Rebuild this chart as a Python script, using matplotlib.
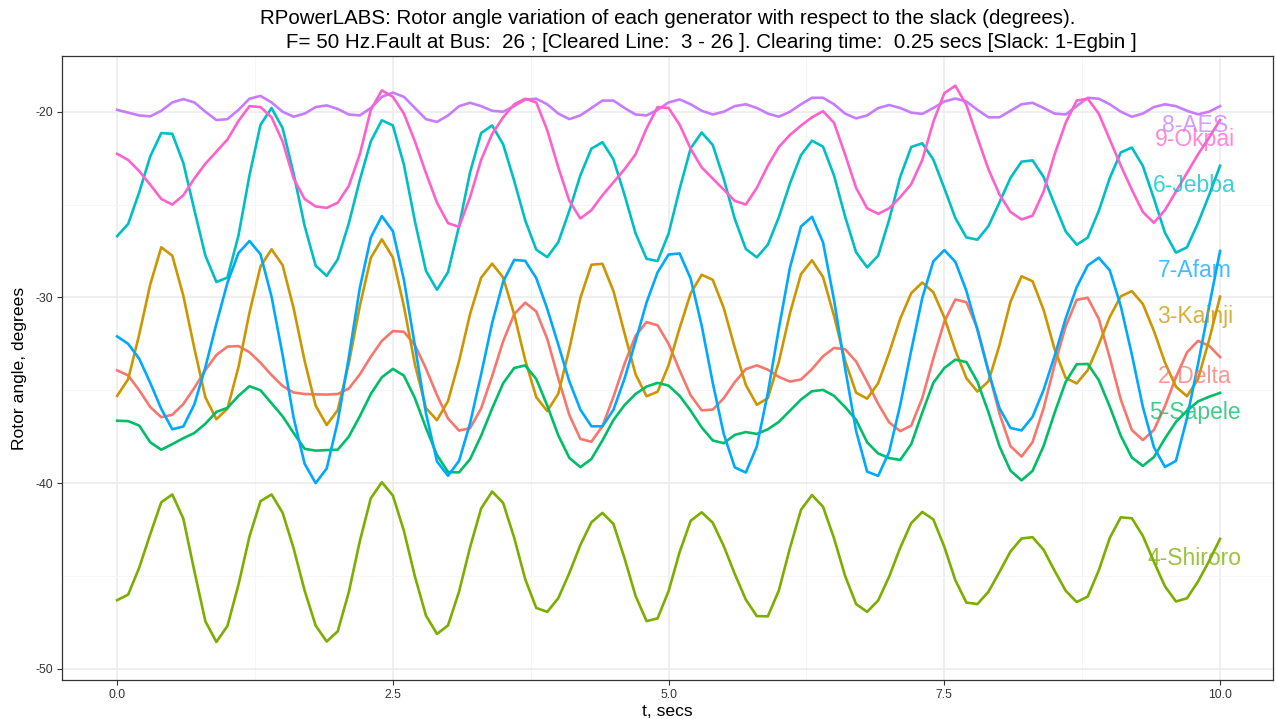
import numpy as np
import matplotlib
matplotlib.use("Agg")
import matplotlib.pyplot as plt
from matplotlib.ticker import FixedLocator

t = [round(0.1 * i, 1) for i in range(101)]

delta = [-33.93, -34.2, -35.0, -35.9, -36.45, -36.32, -35.74, -34.87, -33.91, -33.10,
         -32.65, -32.62, -32.95, -33.52, -34.18, -34.77, -35.12, -35.2, -35.22, -35.23,
         -35.2, -34.91, -34.15, -33.19, -32.34, -31.81, -31.85, -32.57, -33.83, -35.26,
         -36.52, -37.17, -37.04, -35.98, -34.24, -32.36, -30.90, -30.28, -30.76, -32.24,
         -34.36, -36.33, -37.62, -37.77, -36.93, -35.35, -33.58, -32.07, -31.33, -31.50,
         -32.50, -33.93, -35.27, -36.08, -36.04, -35.43, -34.56, -33.86, -33.66, -33.89,
         -34.28, -34.53, -34.42, -33.86, -33.17, -32.72, -32.79, -33.45, -34.55, -35.73,
         -36.73, -37.20, -36.90, -35.42, -33.29, -31.30, -30.11, -30.26, -31.67, -33.94,
         -36.26, -38.01, -38.57, -37.79, -35.97, -33.63, -31.56, -30.13, -30.02, -31.15,
         -33.25, -35.50, -37.14, -37.68, -37.14, -35.86, -34.30, -32.96, -32.34, -32.6,
         -33.21]

kainji = [-35.3, -34.4, -32.0, -29.3, -27.3, -27.75, -29.91, -32.74, -35.38, -36.56,
          -35.99, -33.75, -30.81, -28.33, -27.41, -28.26, -30.58, -33.42, -35.83, -36.87,
          -36.07, -33.57, -30.47, -27.87, -26.87, -27.85, -30.48, -33.61, -35.96, -36.61,
          -35.58, -33.43, -30.89, -28.94, -28.18, -28.93, -30.92, -33.38, -35.37, -36.12,
          -35.18, -32.77, -30.03, -28.24, -28.19, -29.66, -31.92, -34.13, -35.32, -35.08,
          -33.65, -31.65, -29.78, -28.78, -29.05, -30.57, -32.71, -34.71, -35.78, -35.42,
          -33.46, -30.86, -28.75, -28.0, -28.90, -31.0, -33.4, -35.13, -35.45, -34.62,
          -32.98, -31.15, -29.77, -29.2, -29.72, -31.08, -32.85, -34.35, -35.07, -34.52,
          -32.57, -30.23, -28.86, -29.13, -30.67, -32.79, -34.33, -34.63, -33.92, -32.54,
          -31.05, -29.94, -29.66, -30.35, -31.80, -33.50, -34.81, -35.32, -34.4, -32.3,
          -29.96]

shiroro = [-46.3, -46.0, -44.55, -42.75, -41.03, -40.61, -41.91, -44.73, -47.44, -48.55,
           -47.69, -45.47, -42.87, -40.97, -40.61, -41.59, -43.51, -45.79, -47.67, -48.53,
           -47.98, -45.88, -43.13, -40.81, -39.95, -40.67, -42.57, -45.03, -47.13, -48.12,
           -47.66, -45.84, -43.45, -41.37, -40.45, -41.07, -42.94, -45.17, -46.72, -46.93,
           -46.19, -44.84, -43.33, -42.11, -41.6, -42.20, -44.04, -46.06, -47.43, -47.28,
           -45.81, -43.71, -42.03, -41.57, -42.13, -43.39, -44.89, -46.27, -47.16, -47.17,
           -45.77, -43.50, -41.44, -40.64, -41.27, -42.97, -44.99, -46.51, -46.93, -46.32,
           -45.03, -43.48, -42.15, -41.55, -41.95, -43.43, -45.23, -46.43, -46.51, -45.85,
           -44.78, -43.68, -42.98, -42.91, -43.59, -44.72, -45.79, -46.40, -46.11, -44.70,
           -42.95, -41.84, -41.89, -42.84, -44.23, -45.55, -46.37, -46.2, -45.3, -44.2,
           -43.0]

sapele = [-36.64, -36.66, -36.9, -37.8, -38.2, -37.9, -37.58, -37.3, -36.8, -36.16,
          -35.95, -35.3, -34.78, -35.0, -35.7, -36.4, -37.3, -38.15, -38.25, -38.22,
          -38.2, -37.5, -36.4, -35.2, -34.3, -33.85, -34.21, -35.43, -37.02, -38.49,
          -39.40, -39.42, -38.71, -37.45, -35.98, -34.62, -33.80, -33.66, -34.39, -35.83,
          -37.43, -38.64, -39.14, -38.7, -37.7, -36.6, -35.8, -35.2, -34.8, -34.6,
          -34.75, -35.3, -36.1, -37.0, -37.7, -37.85, -37.4, -37.25, -37.35, -37.1,
          -36.7, -36.1, -35.5, -35.05, -34.98, -35.3, -35.9, -36.6, -37.8, -38.4,
          -38.65, -38.75, -37.9, -36.2, -34.6, -33.8, -33.35, -33.48, -34.54, -36.18,
          -38.02, -39.33, -39.85, -39.34, -38.0, -36.21, -34.55, -33.60, -33.58, -34.45,
          -35.88, -37.45, -38.62, -39.07, -38.6, -37.6, -36.7, -36.1, -35.6, -35.35,
          -35.14]

jebba = [-26.7, -26.04, -24.34, -22.41, -21.15, -21.19, -22.76, -25.29, -27.75, -29.17,
         -28.93, -26.67, -23.42, -20.70, -19.80, -20.88, -23.33, -26.15, -28.29, -28.84,
         -27.95, -26.02, -23.68, -21.60, -20.46, -20.74, -22.85, -25.90, -28.57, -29.59,
         -28.64, -26.16, -23.26, -21.15, -20.74, -21.76, -23.72, -25.85, -27.43, -27.83,
         -27.02, -25.33, -23.42, -21.99, -21.64, -22.57, -24.47, -26.54, -27.92, -28.04,
         -26.56, -24.16, -21.97, -21.12, -21.79, -23.61, -25.77, -27.39, -27.84, -27.16,
         -25.67, -23.87, -22.34, -21.56, -21.88, -23.44, -25.64, -27.57, -28.38, -27.75,
         -25.81, -23.51, -21.90, -21.70, -22.57, -24.12, -25.73, -26.77, -26.89, -26.16,
         -24.88, -23.56, -22.69, -22.62, -23.51, -25.00, -26.44, -27.16, -26.78, -25.35,
         -23.57, -22.19, -21.93, -22.92, -24.67, -26.51, -27.59, -27.3, -26.0, -24.5,
         -22.91]

afam = [-32.1, -32.5, -33.3, -34.6, -36.0, -37.1, -36.95, -35.76, -33.76, -31.41,
        -29.21, -27.61, -26.96, -27.68, -29.96, -33.09, -36.48, -38.96, -40.0, -39.21,
        -36.69, -33.24, -29.50, -26.77, -25.62, -26.43, -29.05, -32.61, -36.24, -38.83,
        -39.6, -38.80, -36.78, -34.14, -31.38, -29.15, -27.98, -28.03, -28.96, -30.62,
        -32.55, -34.52, -36.04, -36.94, -36.94, -36.05, -34.38, -32.37, -30.27, -28.65,
        -27.69, -27.63, -28.99, -31.52, -34.59, -37.35, -39.15, -39.43, -38.02, -35.13,
        -31.66, -28.40, -26.18, -25.66, -27.03, -30.14, -33.80, -37.19, -39.38, -39.61,
        -38.31, -35.80, -32.85, -30.03, -28.06, -27.45, -28.08, -29.65, -31.75, -34.00,
        -35.96, -37.03, -37.16, -36.43, -34.98, -33.15, -31.14, -29.45, -28.28, -27.86,
        -28.54, -30.47, -33.07, -35.90, -38.06, -39.13, -38.8, -36.5, -33.6, -30.5,
        -27.5]

aes = [-19.9, -20.05, -20.2, -20.25, -19.95, -19.5, -19.32, -19.5, -20.0, -20.45,
       -20.4, -19.9, -19.3, -19.15, -19.5, -20.0, -20.27, -20.1, -19.75, -19.66,
       -19.85, -20.15, -20.2, -19.8, -19.2, -18.97, -19.2, -19.8, -20.4, -20.55,
       -20.2, -19.7, -19.52, -19.7, -19.95, -20.0, -19.7, -19.35, -19.3, -19.6,
       -20.1, -20.4, -20.2, -19.8, -19.4, -19.4, -19.8, -20.15, -20.2, -19.9,
       -19.5, -19.34, -19.6, -19.95, -20.15, -20.0, -19.7, -19.6, -19.8, -20.1,
       -20.27, -20.0, -19.6, -19.25, -19.25, -19.6, -20.1, -20.36, -20.2, -19.8,
       -19.64, -19.8, -20.05, -20.12, -19.8, -19.45, -19.29, -19.45, -19.9, -20.3,
       -20.3, -19.95, -19.6, -19.52, -19.8, -20.1, -20.15, -19.7, -19.25, -19.3,
       -19.6, -20.0, -20.27, -20.1, -19.75, -19.6, -19.7, -19.95, -20.14, -20.0,
       -19.7]

okpai = [-22.27, -22.6, -23.2, -23.93, -24.7, -25.0, -24.5, -23.6, -22.8, -22.15,
         -21.5, -20.5, -19.7, -19.75, -20.3, -21.6, -23.6, -24.7, -25.1, -25.18,
         -24.9, -24.0, -22.3, -19.9, -18.85, -19.2, -20.1, -21.6, -23.3, -24.9,
         -26.0, -26.2, -24.6, -22.6, -21.2, -20.3, -19.6, -19.3, -19.5, -21.0,
         -23.0, -24.8, -25.75, -25.3, -24.5, -23.8, -23.1, -22.3, -20.9, -19.75,
         -19.8, -20.7, -22.0, -23.0, -23.6, -24.2, -24.8, -25.0, -24.1, -22.9,
         -21.9, -21.25, -20.75, -20.3, -19.97, -20.6, -22.3, -24.1, -25.2, -25.5,
         -25.2, -24.6, -23.9, -22.6, -20.55, -19.0, -18.6, -19.64, -21.4, -23.1,
         -24.46, -25.4, -25.8, -25.6, -24.3, -22.3, -20.6, -19.4, -19.3, -20.1,
         -21.5, -22.9, -24.2, -25.4, -25.98, -25.3, -24.3, -23.3, -22.3, -21.4,
         -20.45]

names = ["2-Delta", "3-Kainji", "4-Shiroro", "5-Sapele", "6-Jebba", "7-Afam", "8-AES", "9-Okpai"]
series = [delta, kainji, shiroro, sapele, jebba, afam, aes, okpai]
colors = ["#F8766D", "#CD9600", "#7CAE00", "#00BE67", "#00BFC4", "#00A9FF", "#C77CFF", "#FF61CC"]

x_ticks = [0.0, 2.5, 5.0, 7.5, 10.0]
x_tick_labels = ["0.0", "2.5", "5.0", "7.5", "10.0"]
y_ticks = [-50, -40, -30, -20]
y_tick_labels = ["-50", "-40", "-30", "-20"]

title1 = "RPowerLABS: Rotor angle variation of each generator with respect to the slack (degrees)."
title2 = "F= 50 Hz.Fault at Bus:  26 ; [Cleared Line:  3 - 26 ]. Clearing time:  0.25 secs [Slack: 1-Egbin ]"

plt.rcParams['font.family'] = ['Liberation Sans', 'DejaVu Sans']

fig = plt.figure(figsize=(12.77, 7.19), dpi=100)
ax = fig.add_axes([62 / 1277, 1 - 680 / 719, (1273 - 62) / 1277, (680 - 56) / 719])

for name, vals, col in zip(names, series, colors):
    ax.plot(t, vals, color=col, lw=1.9, solid_joinstyle='round', zorder=3)

for name, vals, col in zip(names, series, colors):
    ax.text(9.77, vals[-1] - 1.05, name, color=col, alpha=0.75, fontsize=16.5,
            ha='center', va='center', zorder=4)

ax.set_xlim(-0.5, 10.48)
ax.set_ylim(-50.6, -17.0)
ax.set_xticks(x_ticks)
ax.set_xticklabels(x_tick_labels)
ax.set_yticks(y_ticks)
ax.set_yticklabels(y_tick_labels)
ax.xaxis.set_minor_locator(FixedLocator([1.25, 3.75, 6.25, 8.75]))
ax.yaxis.set_minor_locator(FixedLocator([-45, -35, -25]))
ax.grid(True, which='major', color='#EBEBEB', lw=1.1, zorder=0)
ax.grid(True, which='minor', color='#F5F5F5', lw=0.6, zorder=0)
ax.set_axisbelow(True)
ax.tick_params(which='major', length=3.5, width=0.8, color='#333333', labelsize=8.8,
               labelcolor='#333333', pad=3)
ax.tick_params(which='minor', length=0)
for sp in ax.spines.values():
    sp.set_color('#333333')
    sp.set_linewidth(0.9)

ax.set_xlabel("t, secs", fontsize=12.6, labelpad=2)
ax.set_ylabel("Rotor angle, degrees", fontsize=12.6, labelpad=6)

fig.text(668 / 1277, 1 - 18 / 719, title1, ha='center', va='center', fontsize=14.8)
fig.text(711 / 1277, 1 - 43 / 719, title2, ha='center', va='center', fontsize=14.8)

fig.savefig("out.png", dpi=100)
